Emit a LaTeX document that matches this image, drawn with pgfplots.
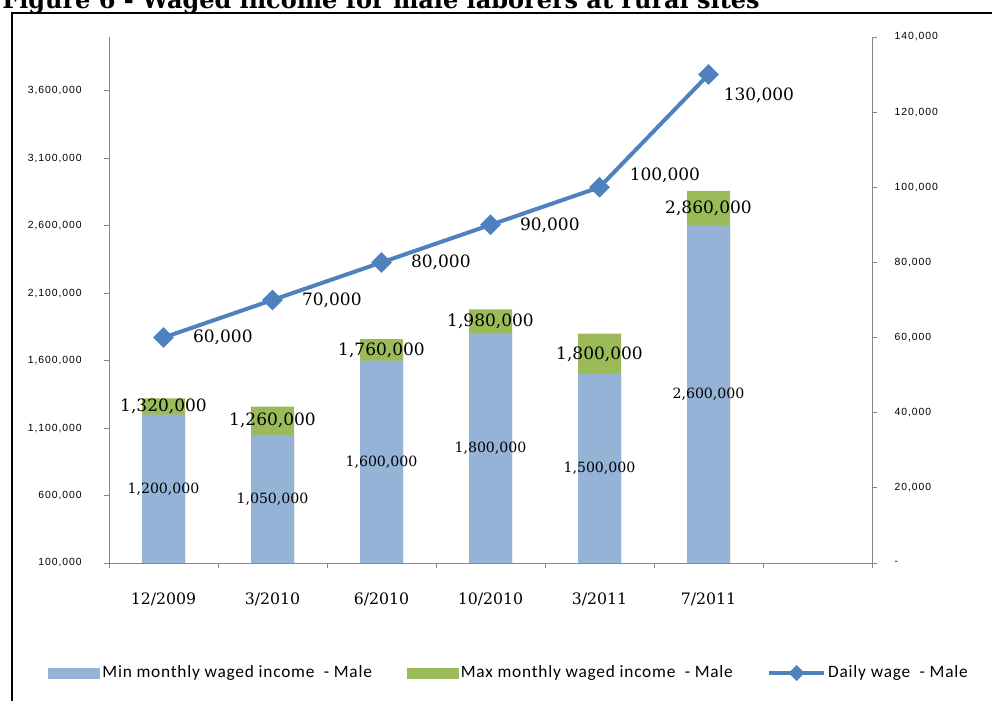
\documentclass[border=0pt]{standalone}
\usepackage{fontspec}
\setmainfont{DejaVu Serif}
\newfontfamily\tickfont[LetterSpace=9]{Liberation Sans}
\newfontfamily\legfont[LetterSpace=4.5]{Carlito}
\usepackage{pgfplots}
\usepackage{pgfplotstable}
\pgfplotsset{compat=1.18}
\definecolor{minblue}{HTML}{95B3D7}
\definecolor{maxgreen}{HTML}{9BBB59}
\definecolor{lineblue}{HTML}{4F81BD}
\definecolor{axgray}{HTML}{868686}

% bar data: min and max monthly waged income; label positions at segment centres
\pgfplotstableread{
x min max minpos maxpos minlbl maxlbl
0 1200000 1320000 650000 1260000 1,200,000 1,320,000
1 1050000 1260000 575000 1155000 1,050,000 1,260,000
2 1600000 1760000 850000 1680000 1,600,000 1,760,000
3 1800000 1980000 950000 1890000 1,800,000 1,980,000
4 1500000 1800000 800000 1650000 1,500,000 1,800,000
5 2600000 2860000 1350000 2730000 2,600,000 2,860,000
}\bars

\pgfplotstableread{
x daily lbl
0 60000 60,000
1 70000 70,000
2 80000 80,000
3 90000 90,000
4 100000 100,000
5 130000 130,000
}\daily

\pgfplotsset{linelbl/.style={draw=none, mark=none, forget plot,
  nodes near coords, point meta=explicit symbolic,
  every node near coord/.append style={anchor=west, inner sep=0, black,
    font=\fontsize{12.75}{14}\selectfont}}}

\begin{document}
\begin{tikzpicture}
\useasboundingbox (0,0) rectangle (744pt,-525pt);
\begin{scope}
\clip (0,0) rectangle (744pt,-525pt);
\node[anchor=base west, inner sep=0, font=\bfseries] at (1.5pt,-6.4pt)
  {\resizebox{568pt}{!}{Figure 6 - Waged income for male laborers at rural sites}};
\draw[line width=1.5pt] (9pt,-540pt) -- (9pt,-9.75pt) -- (760pt,-9.75pt);
\end{scope}

\begin{axis}[
  at={(81.75pt,-422.25pt)}, anchor=south west,
  scale only axis, width=572.25pt, height=394.5pt,
  xmin=-0.5, xmax=6.5, ymin=100000, ymax=4000000,
  scaled y ticks=false,
  axis x line*=bottom, axis y line*=left,
  axis line style={axgray, line width=0.75pt},
  xtick={0,...,5},
  xticklabels={12/2009,3/2010,6/2010,10/2010,3/2011,7/2011},
  major x tick style={draw=none},
  minor xtick={-0.5,0.5,...,6.5},
  ytick={100000,600000,...,3600000},
  yticklabels={{100,000},{600,000},{1,100,000},{1,600,000},{2,100,000},{2,600,000},{3,100,000},{3,600,000}},
  tick align=outside,
  tick style={axgray, line width=0.75pt},
  major tick length=3.5pt, minor tick length=3.75pt,
  xticklabel style={font=\fontsize{11.8}{13}\selectfont, yshift=-15pt},
  yticklabel style={font=\tickfont\fontsize{7.8}{9}\selectfont, xshift=-13.5pt},
]
\addplot[ybar, bar width=32.25pt, bar shift=0pt, fill=maxgreen, draw=none]
  table[x=x, y=max] {\bars};
\addplot[ybar, bar width=32.25pt, bar shift=0pt, fill=minblue, draw=none]
  table[x=x, y=min] {\bars};
\addplot[draw=none, mark=none, nodes near coords, point meta=explicit symbolic,
  every node near coord/.append style={anchor=center, inner sep=0,
    font=\fontsize{10.6}{12}\selectfont}]
  table[x=x, y=minpos, meta=minlbl] {\bars};
\addplot[draw=none, mark=none, nodes near coords, point meta=explicit symbolic,
  every node near coord/.append style={anchor=center, inner sep=0,
    font=\fontsize{12.75}{14}\selectfont}]
  table[x=x, y=maxpos, meta=maxlbl] {\bars};
\end{axis}

\begin{axis}[
  at={(81.75pt,-422.25pt)}, anchor=south west,
  scale only axis, width=572.25pt, height=394.5pt,
  xmin=-0.5, xmax=6.5, ymin=0, ymax=140000,
  scaled y ticks=false,
  axis x line=none, axis y line*=right,
  axis line style={axgray, line width=0.75pt},
  ytick={0,20000,...,140000},
  yticklabels={{-},{20,000},{40,000},{60,000},{80,000},{100,000},{120,000},{140,000}},
  tick align=outside,
  tick style={axgray, line width=0.75pt},
  major tick length=3.5pt,
  yticklabel style={font=\tickfont\fontsize{7.8}{9}\selectfont, xshift=10pt},
  clip=false,
  legend columns=3,
  legend style={at={(-0.08,-0.209)}, anchor=west, draw=none, fill=none,
    inner sep=0pt, font=\legfont\fontsize{13}{15}\selectfont,
    /tikz/every even column/.append style={column sep=24pt},
    nodes={inner sep=2pt}},
  legend cell align=left,
]
\addlegendimage{legend image code/.code={\fill[minblue] (0pt,-3.75pt) rectangle (38.25pt,3.75pt);}}
\addlegendentry{Min monthly waged income~ - Male}
\addlegendimage{legend image code/.code={\fill[maxgreen] (0pt,-3.75pt) rectangle (38.25pt,3.75pt);}}
\addlegendentry{Max monthly waged income~ - Male}
\addplot[lineblue, line width=3pt, mark=square*, mark size=4pt,
  mark options={rotate=45, solid},
  legend image code/.code={\draw[mark repeat=2, mark phase=2, mark size=3pt, line width=2.5pt] plot coordinates {(0pt,0pt) (20.5pt,0pt) (41pt,0pt)};}]
  table[x=x, y=daily] {\daily};
\addlegendentry{Daily wage~ - Male}
\addplot[linelbl, skip coords between index={4}{6},
  every node near coord/.append style={xshift=22pt}]
  table[x=x, y=daily, meta=lbl] {\daily};
\addplot[linelbl, skip coords between index={0}{4}, skip coords between index={5}{6},
  every node near coord/.append style={xshift=22.5pt, yshift=9pt}]
  table[x=x, y=daily, meta=lbl] {\daily};
\addplot[linelbl, skip coords between index={0}{5},
  every node near coord/.append style={xshift=11.25pt, yshift=-15.75pt}]
  table[x=x, y=daily, meta=lbl] {\daily};
\end{axis}
\end{tikzpicture}
\end{document}
